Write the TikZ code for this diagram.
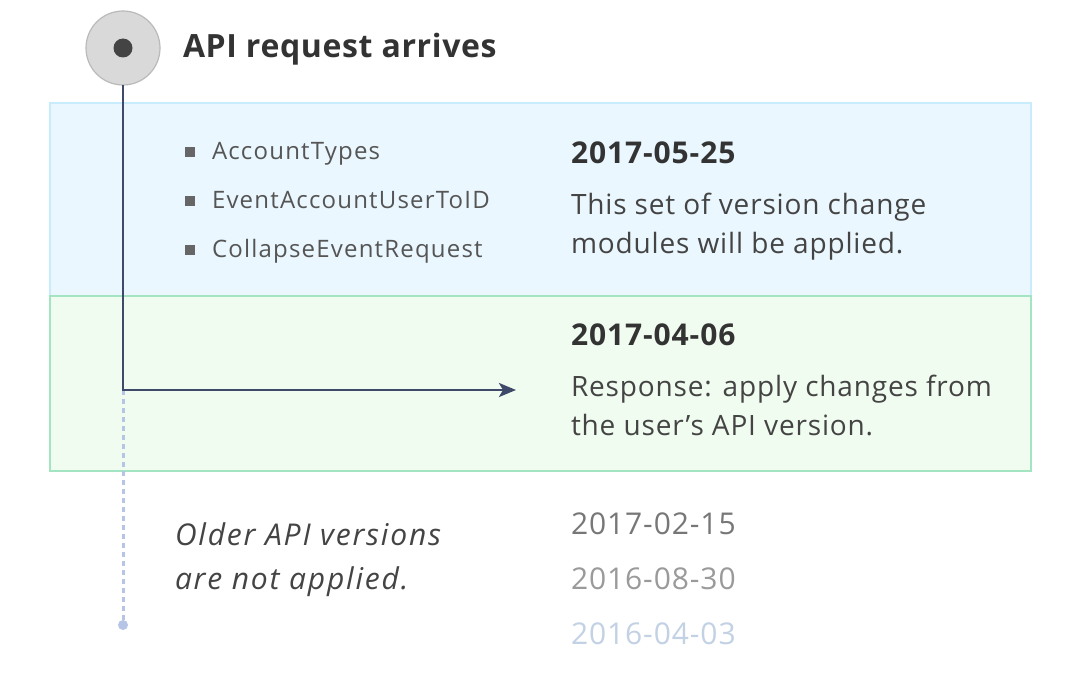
\documentclass[tikz,border=0pt]{standalone}
\usepackage{fontspec}
\setmainfont{Open Sans}
\usetikzlibrary{arrows.meta}

\definecolor{navy}{HTML}{3F4A6B}
\definecolor{trail}{HTML}{B6C4E6}
\definecolor{bluebg}{HTML}{EAF7FE}
\definecolor{blueedge}{HTML}{C8ECFB}
\definecolor{greenbg}{HTML}{F1FCF0}
\definecolor{greenedge}{HTML}{A3E5C2}
\definecolor{txtdark}{HTML}{333333}
\definecolor{txtbody}{HTML}{444444}
\definecolor{txtitem}{HTML}{555555}
\definecolor{oldone}{HTML}{777777}
\definecolor{oldtwo}{HTML}{9A9A9A}
\definecolor{oldthree}{HTML}{C3D1E4}

\begin{document}
\begin{tikzpicture}[x=1pt, y=-1pt,
    every node/.style={inner sep=0pt, outer sep=0pt},
    heading/.style={anchor=base west, text=txtdark, font=\fontsize{32}{36}\selectfont\bfseries\addfontfeature{LetterSpace=2}},
    datebold/.style={anchor=base west, text=txtdark, font=\fontsize{30}{36}\selectfont\bfseries\addfontfeature{LetterSpace=3}},
    dateold/.style={anchor=base west, font=\fontsize{30}{36}\selectfont\addfontfeature{LetterSpace=3}},
    body/.style={anchor=base west, text=txtbody, font=\fontsize{28}{34}\selectfont\addfontfeature{LetterSpace=3}},
    note/.style={anchor=base west, text=txtbody, font=\fontsize{30}{34}\selectfont\itshape\addfontfeature{LetterSpace=6}},
    item/.style={anchor=base west, text=txtitem, font=\fontsize{24}{26}\selectfont\addfontfeature{LetterSpace=5}},
    bulletsq/.style={rectangle, minimum size=10pt, fill=black!60},
    flow/.style={navy, line width=2.6pt},
    trailline/.style={trail, line width=3pt, dash pattern=on 5pt off 4pt}]

        \useasboundingbox (0,0) rectangle (1082,677);
        \fill[white] (0,0) rectangle (1082,677);

        % version bands
        \draw[blueedge, line width=1.2pt, fill=bluebg] (50,103) rectangle (1031,296);
        \draw[greenedge, line width=1.2pt, fill=greenbg] (50,296) rectangle (1031,471);

        \node[circle, minimum size=74pt, fill=black!15, draw=black!27, line width=1.2pt] (start) at (123,48) {};
        \node[circle, minimum size=19pt, fill=txtbody] (startdot) at (start) {};
        \node[heading] (title) at (183,58) {API request arrives};

        \coordinate (turn) at (123,390);
        \coordinate (target) at (516,390);
        \coordinate (trailend) at (123,625);

        \draw[trailline] (turn) -- (trailend);
        \fill[trail] (trailend) circle (5);
        \draw[flow, -{Stealth[length=17pt, width=14pt, inset=4pt]}] (start.south) -- (turn) -- (target);

        \node[bulletsq] (sq1) at (190,152) {};
        \node[bulletsq] (sq2) at (190,201) {};
        \node[bulletsq] (sq3) at (190,250) {};
        \node[item] (mod1) at (212,159) {AccountTypes};
        \node[item] (mod2) at (212,208) {EventAccountUserToID};
        \node[item] (mod3) at (212,257) {CollapseEventRequest};

        \node[datebold] (d1) at (571,163) {2017-05-25};
        \node[body] (d1a) at (571,214) {This set of version change};
        \node[body] (d1b) at (571,253) {modules will be applied.};

        \node[datebold] (d2) at (571,345) {2017-04-06};
        \node[body] (d2a) at (571,396) {Response: apply changes from};
        \node[body] (d2b) at (571,435) {the user’s API version.};

        \node[note] (note1) at (175,545) {Older API versions};
        \node[note] (note2) at (175,589) {are not applied.};

        \node[dateold, text=oldone] (d3) at (571,534) {2017-02-15};
        \node[dateold, text=oldtwo] (d4) at (571,589) {2016-08-30};
        \node[dateold, text=oldthree] (d5) at (571,644) {2016-04-03};

\end{tikzpicture}
\end{document}
